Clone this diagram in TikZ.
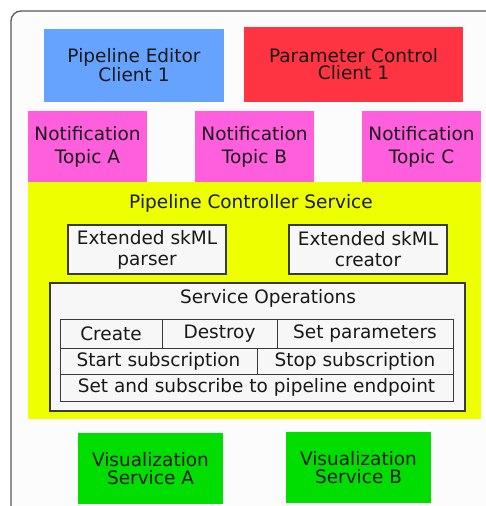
\documentclass[tikz,border=0pt]{standalone}
\usepackage{fontspec}
\setmainfont{DejaVu Sans}
\definecolor{editorblue}{HTML}{66A3FF}
\definecolor{paramred}{HTML}{FF3442}
\definecolor{topicpink}{HTML}{FF5EDC}
\definecolor{ctrlyellow}{HTML}{EEFF00}
\definecolor{vizgreen}{HTML}{00DE00}
\definecolor{panelgray}{HTML}{F7F7F7}
\definecolor{edgegray}{HTML}{3A3A3A}
\begin{document}
\begin{tikzpicture}[x=1pt,y=-1pt,
        every node/.style={font=\fontsize{18.5}{17}\selectfont,text=black!90,align=center,inner sep=0pt},
        block/.style={rectangle},
        panel/.style={rectangle,fill=panelgray,draw=edgegray,line width=1.2pt},
        cell/.style={rectangle,draw=edgegray,line width=1pt},
        topic/.style={block,fill=topicpink,minimum width=119pt,minimum height=71pt,font=\fontsize{18.5}{23}\selectfont}]
                \clip (0,0) rectangle (486,506);
                \fill[white] (0,0) rectangle (486,506);
                \draw[draw=black!65,fill=black!1,line width=1.3pt,rounded corners=10pt] (11,11) rectangle (530,540);
                \node[block,fill=editorblue,minimum width=180pt,minimum height=73pt] (editor) at (134,65.5) {Pipeline Editor\\Client 1};
                \node[block,fill=paramred,minimum width=219pt,minimum height=75pt] (param) at (353.5,64.5) {Parameter Control\\Client 1};
                \node[topic] (topicA) at (87.5,146.5) {Notification\\Topic A};
                \node[topic] (topicB) at (254.5,146.5) {Notification\\Topic B};
                \node[topic] (topicC) at (421.5,146.5) {Notification\\Topic C};
                \node[block,fill=ctrlyellow,minimum width=453pt,minimum height=237pt] (ctrl) at (254.5,300.5) {};
                \node (ctrltitle) at (251,203) {Pipeline Controller Service};
                \node[panel,minimum width=158pt,minimum height=49pt,font=\fontsize{18.5}{21}\selectfont] (parser) at (147,249.5) {Extended skML\\parser};
                \node[panel,minimum width=158pt,minimum height=49pt,font=\fontsize{18.5}{21}\selectfont] (creator) at (368,249.5) {Extended skML\\creator};
                \node[panel,minimum width=415pt,minimum height=128pt] (ops) at (257.5,347) {};
                \node (opstitle) at (268,298) {Service Operations};
                \node[cell,minimum width=102pt,minimum height=29pt] (create) at (111,333.5) {Create};
                \node[cell,minimum width=115pt,minimum height=29pt] (destroy) at (219.5,333.5) {Destroy};
                \node[cell,minimum width=176pt,minimum height=29pt] (setpar) at (365,333.5) {Set parameters};
                \node[cell,minimum width=197pt,minimum height=26pt] (startsub) at (158.5,361) {Start subscription};
                \node[cell,minimum width=196pt,minimum height=26pt] (stopsub) at (355,361) {Stop subscription};
                \node[cell,minimum width=393pt,minimum height=27pt] (endpoint) at (256.5,387.5) {Set and subscribe to pipeline endpoint};
                \node[block,fill=vizgreen,minimum width=145pt,minimum height=71pt,font=\fontsize{18.5}{18}\selectfont] (vizA) at (150.5,468.5) {Visualization\\Service A};
                \node[block,fill=vizgreen,minimum width=145pt,minimum height=71pt,font=\fontsize{18.5}{18}\selectfont] (vizB) at (358.5,467.5) {Visualization\\Service B};
            \end{tikzpicture}
\end{document}
